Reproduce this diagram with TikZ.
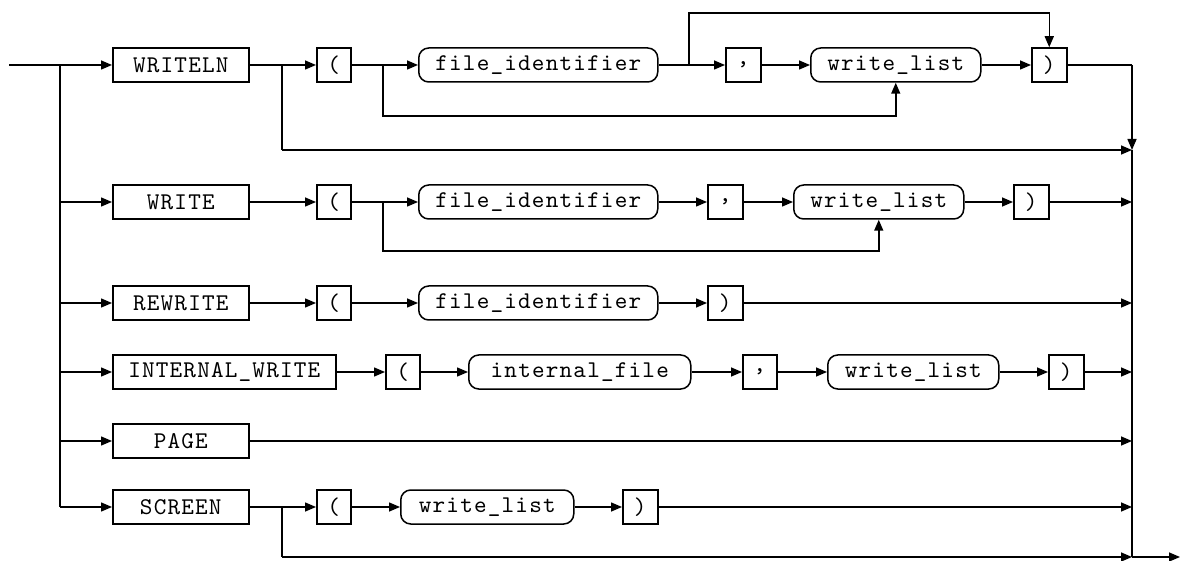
\documentclass[tikz,border=0pt]{standalone}
\usepackage{fontspec}
\usetikzlibrary{arrows.meta}
\newfontfamily\diagfont{lmmono10-regular}[Extension=.otf, LetterSpace=5]
\begin{document}
\begin{tikzpicture}[x=1pt,y=-1pt, line width=1.5pt,
 kw/.style={draw, rectangle, minimum height=34pt, inner sep=0pt, anchor=west,
   font=\diagfont\fontsize{24}{24}\selectfont},
 nt/.style={kw, rounded corners=10pt},
 arr/.style={-{Triangle[length=11pt,width=9pt]}}]
\useasboundingbox (0,0) rectangle (1181,561);

% ---------- row 1: WRITELN ----------
\node[kw, minimum width=136pt] (wln) at (112,65) {WRITELN};
\node[kw, minimum width=34pt]  (lp1) at (316,65) {(};
\node[nt, minimum width=239pt] (fid1) at (418,65) {file\_identifier};
\node[kw, minimum width=35pt]  (cm1) at (725,65) {,};
\node[nt, minimum width=170pt] (wl1) at (810,65) {write\_list};
\node[kw, minimum width=35pt]  (rp1) at (1031,65) {)};

% ---------- row 2: WRITE ----------
\node[kw, minimum width=136pt] (wr) at (112,202) {WRITE};
\node[kw, minimum width=34pt]  (lp2) at (316,202) {(};
\node[nt, minimum width=239pt] (fid2) at (418,202) {file\_identifier};
\node[kw, minimum width=35pt]  (cm2) at (707,202) {,};
\node[nt, minimum width=170pt] (wl2) at (793,202) {write\_list};
\node[kw, minimum width=35pt]  (rp2) at (1013,202) {)};

% ---------- row 3: REWRITE ----------
\node[kw, minimum width=136pt] (rw) at (112,303) {REWRITE};
\node[kw, minimum width=34pt]  (lp3) at (316,303) {(};
\node[nt, minimum width=239pt] (fid3) at (418,303) {file\_identifier};
\node[kw, minimum width=35pt]  (rp3) at (707,303) {)};

% ---------- row 4: INTERNAL_WRITE ----------
\node[kw, minimum width=223pt] (iw) at (112,372) {INTERNAL\_WRITE};
\node[kw, minimum width=34pt]  (lp4) at (385,372) {(};
\node[nt, minimum width=222pt] (if4) at (468,372) {internal\_file};
\node[kw, minimum width=34pt]  (cm4) at (742,372) {,};
\node[nt, minimum width=171pt] (wl4) at (827,372) {write\_list};
\node[kw, minimum width=35pt]  (rp4) at (1048,372) {)};

% ---------- row 5: PAGE ----------
\node[kw, minimum width=136pt] (pg) at (112,441) {PAGE};

% ---------- row 6: SCREEN ----------
\node[kw, minimum width=136pt] (sc) at (112,507) {SCREEN};
\node[kw, minimum width=34pt]  (lp6) at (316,507) {(};
\node[nt, minimum width=173pt] (wl6) at (400,507) {write\_list};
\node[kw, minimum width=35pt]  (rp6) at (622,507) {)};

% ---------- coordinates ----------
\coordinate (start) at (9,65);
\coordinate (L1) at (60,65);
\coordinate (L2) at (60,202);
\coordinate (L3) at (60,303);
\coordinate (L4) at (60,372);
\coordinate (L5) at (60,441);
\coordinate (L6) at (60,507);
\coordinate (R1) at (1132,65);
\coordinate (Rb) at (1132,150);
\coordinate (R2) at (1132,202);
\coordinate (R3) at (1132,303);
\coordinate (R4) at (1132,372);
\coordinate (R5) at (1132,441);
\coordinate (R6) at (1132,507);
\coordinate (Rend) at (1132,557);
\coordinate (exit) at (1180,557);
\coordinate (s1) at (282,65);
\coordinate (b1) at (282,150);
\coordinate (t1) at (383,65);
\coordinate (u1) at (383,116);
\coordinate (f1) at (689,65);
\coordinate (v1) at (689,13);
\coordinate (t2) at (383,202);
\coordinate (u2) at (383,251);
\coordinate (s6) at (282,507);
\coordinate (b6) at (282,557);

% ---------- left trunk ----------
\draw (start) -- (L1) -- (L6);
\draw[arr] (L1) -- (wln.west);
\draw[arr] (L2) -- (wr.west);
\draw[arr] (L3) -- (rw.west);
\draw[arr] (L4) -- (iw.west);
\draw[arr] (L5) -- (pg.west);
\draw[arr] (L6) -- (sc.west);

% ---------- row 1 ----------
\draw[arr] (wln.east) -- (lp1.west);
\draw (s1) -- (b1);
\draw[arr] (b1) -- (Rb);
\draw[arr] (lp1.east) -- (fid1.west);
\draw[arr] (t1) -- (u1) -| (wl1.south);
\draw[arr] (fid1.east) -- (cm1.west);
\draw[arr] (f1) -- (v1) -| (rp1.north);
\draw[arr] (cm1.east) -- (wl1.west);
\draw[arr] (wl1.east) -- (rp1.west);
\draw (rp1.east) -- (R1);

% ---------- row 2 ----------
\draw[arr] (wr.east) -- (lp2.west);
\draw[arr] (lp2.east) -- (fid2.west);
\draw[arr] (t2) -- (u2) -| (wl2.south);
\draw[arr] (fid2.east) -- (cm2.west);
\draw[arr] (cm2.east) -- (wl2.west);
\draw[arr] (wl2.east) -- (rp2.west);
\draw[arr] (rp2.east) -- (R2);

% ---------- row 3 ----------
\draw[arr] (rw.east) -- (lp3.west);
\draw[arr] (lp3.east) -- (fid3.west);
\draw[arr] (fid3.east) -- (rp3.west);
\draw[arr] (rp3.east) -- (R3);

% ---------- row 4 ----------
\draw[arr] (iw.east) -- (lp4.west);
\draw[arr] (lp4.east) -- (if4.west);
\draw[arr] (if4.east) -- (cm4.west);
\draw[arr] (cm4.east) -- (wl4.west);
\draw[arr] (wl4.east) -- (rp4.west);
\draw[arr] (rp4.east) -- (R4);

% ---------- row 5 ----------
\draw[arr] (pg.east) -- (R5);

% ---------- row 6 ----------
\draw[arr] (sc.east) -- (lp6.west);
\draw[arr] (lp6.east) -- (wl6.west);
\draw[arr] (wl6.east) -- (rp6.west);
\draw[arr] (rp6.east) -- (R6);
\draw (s6) -- (b6);
\draw[arr] (b6) -- (Rend);

% ---------- right trunk ----------
\draw[arr] (R1) -- (Rb);
\draw (Rb) -- (Rend);
\draw[arr] (Rend) -- (exit);
\end{tikzpicture}
\end{document}
